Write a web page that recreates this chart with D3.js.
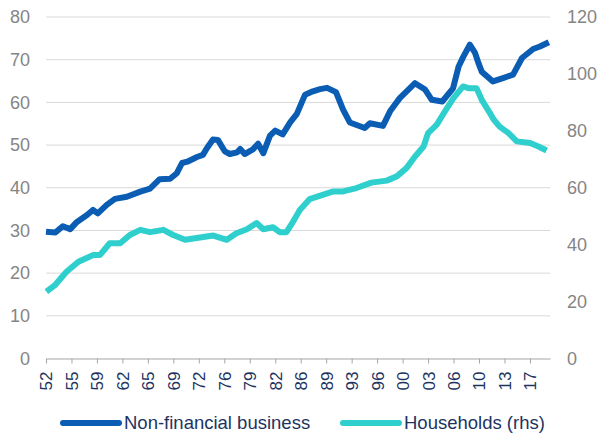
<!DOCTYPE html>
<html>
<head>
<meta charset="utf-8">
<script src="https://cdn.jsdelivr.net/npm/d3@7"></script>
<style>
  body { margin: 0; background: #fff; }
  svg { font-family: "Liberation Sans", Arial, sans-serif; }
</style>
</head>
<body>
<div id="chart"></div>
<script>
// Non-financial business debt (lhs) and households (rhs)
var bizYears = [1952.25, 1953.5, 1954.5, 1955.5, 1956.4, 1957.75, 1958.55, 1959.2, 1960.4, 1961.5,
    1963.1, 1964.9, 1966.2, 1967.5, 1968.9, 1969.8, 1970.5, 1971.2, 1972.5, 1973.3,
    1973.85, 1974.65, 1975.3, 1976.25, 1976.9, 1977.9, 1978.3, 1978.9, 1980.0, 1980.7,
    1981.4, 1982.3, 1983.0, 1984.0, 1985.0, 1985.9, 1987.0, 1988.05, 1989.0, 1989.95,
    1991.15, 1992.1, 1993.0, 1995.0, 1995.7, 1997.45, 1998.4, 1999.7, 2001.75, 2003.1,
    2004.0, 2005.4, 2006.85, 2007.6, 2008.2, 2009.1, 2009.8, 2010.3, 2010.7, 2012.2,
    2013.55, 2014.9, 2016.1, 2017.6, 2018.5, 2019.7];
var bizValues = [29.7, 29.5, 31, 30.3, 32, 33.6, 34.8, 34, 36, 37.4,
    37.9, 39.1, 39.8, 42, 42.1, 43.4, 45.8, 46.1, 47.2, 47.7,
    49.3, 51.3, 51.2, 48.5, 47.9, 48.3, 49.1, 47.9, 49, 50.3,
    48.1, 52.2, 53.4, 52.5, 55.3, 57.3, 61.8, 62.6, 63.1, 63.4,
    62.4, 58.3, 55.3, 54, 55.1, 54.5, 57.9, 61, 64.5, 63,
    60.6, 60.2, 63.3, 68.4, 70.6, 73.5, 71.6, 69, 67.2, 64.9,
    65.7, 66.5, 70.4, 72.5, 73.1, 74.1];

var hhYears = [1952.3, 1953.5, 1955.0, 1956.6, 1958.6, 1959.5, 1960.8, 1962.2, 1963.5, 1964.9,
    1966.2, 1968.0, 1969.3, 1970.9, 1972.9, 1974.7, 1976.5, 1977.8, 1979.2, 1980.5,
    1981.4, 1982.7, 1983.6, 1984.5, 1985.4, 1986.3, 1987.6, 1990.8, 1992.1, 1993.9,
    1995.9, 1997.95, 1999.3, 2000.6, 2001.75, 2002.9, 2003.5, 2004.65, 2005.75, 2006.9,
    2008.2, 2008.9, 2010.0, 2010.7, 2011.8, 2012.3, 2013.1, 2014.3, 2015.4, 2017.2,
    2018.3, 2019.4];
var hhValues = [23.5, 25.9, 30.5, 34, 36.4, 36.4, 40.5, 40.5, 43.4, 45.2,
    44.4, 45.2, 43.4, 41.7, 42.5, 43.2, 41.7, 44, 45.4, 47.6,
    45.4, 46.1, 44.4, 44.4, 48.1, 52.2, 56, 58.7, 58.7, 59.9,
    61.8, 62.5, 64, 66.9, 71, 74.5, 79.2, 82.1, 86.8, 91.5,
    95.6, 95, 95, 90.9, 86.2, 84, 81.5, 79.2, 76.3, 75.7,
    74.5, 73.1];

var leftTicks = [0, 10, 20, 30, 40, 50, 60, 70, 80];
var rightTicks = [0, 20, 40, 60, 80, 100, 120];
var xTickLabels = ["52", "55", "59", "62", "65", "69", "72", "76", "79", "82",
    "86", "89", "93", "96", "00", "03", "06", "10", "13", "17"];

var seriesNames = ["Non-financial business", "Households (rhs)"];
var colors = ["#0a5db3", "#2ecfcd"];

var svgWidth = 600;
var svgHeight = 435;

var margin = { top: 17, right: 50, bottom: 76, left: 46 };
var chartWidth = svgWidth - margin.left - margin.right;
var chartHeight = 358.5 - margin.top;

var svg = d3.select("#chart")
    .append("svg")
    .attr("width", svgWidth)
    .attr("height", svgHeight);

var chartGroup = svg.append("g")
    .attr("transform", `translate(${margin.left}, ${margin.top})`);

// tick every 41 months starting at 1952 Q2
var xStart = 1952.25;
var xTickValues = xTickLabels.map((d, i) => xStart + i * 41 / 12);

var xScale = d3.scaleLinear()
    .domain([xStart, xStart + chartWidth / 7.455])
    .range([0, chartWidth]);

var yLeft = d3.scaleLinear().domain([0, 80]).range([chartHeight, 0]);
var yRight = d3.scaleLinear().domain([0, 120]).range([chartHeight, 0]);

// gridlines
chartGroup.append("g")
    .selectAll("line")
    .data(leftTicks.filter(d => d > 0))
    .enter()
    .append("line")
    .attr("x1", 0)
    .attr("x2", chartWidth)
    .attr("y1", d => yLeft(d))
    .attr("y2", d => yLeft(d))
    .attr("stroke", "#d9d9d9")
    .attr("stroke-width", 1);

// left axis labels
var leftAxis = d3.axisLeft(yLeft).tickValues(leftTicks).tickSize(0).tickPadding(16);
var gl = chartGroup.append("g").call(leftAxis);
gl.select(".domain").remove();
gl.selectAll("text")
    .attr("fill", "#858585")
    .style("font-size", "18px");

// right axis labels
var rightAxis = d3.axisRight(yRight).tickValues(rightTicks).tickSize(0).tickPadding(17);
var gr = chartGroup.append("g")
    .attr("transform", `translate(${chartWidth}, 0)`)
    .call(rightAxis);
gr.select(".domain").remove();
gr.selectAll("text")
    .attr("fill", "#858585")
    .style("font-size", "18px");

// bottom axis
var bottomAxis = d3.axisBottom(xScale)
    .tickValues(xTickValues)
    .tickFormat((d, i) => xTickLabels[i])
    .tickSizeInner(5)
    .tickSizeOuter(0);

var gx = chartGroup.append("g")
    .attr("transform", `translate(0, ${chartHeight})`)
    .call(bottomAxis);
gx.select(".domain").attr("stroke", "#a6a6a6");
gx.selectAll(".tick line").attr("stroke", "#a6a6a6");
gx.selectAll("text")
    .attr("transform", "rotate(-90)")
    .attr("text-anchor", "end")
    .attr("x", -13)
    .attr("y", 0)
    .attr("dy", "0.35em")
    .attr("fill", "#1d3461")
    .style("font-size", "17px");

// lines
var bizData = bizYears.map((d, i) => ({ x: d, v: bizValues[i] }));
var hhData = hhYears.map((d, i) => ({ x: d, v: hhValues[i] }));

var bizLine = d3.line().x(d => xScale(d.x)).y(d => yLeft(d.v));
var hhLine = d3.line().x(d => xScale(d.x)).y(d => yRight(d.v));

chartGroup.append("path")
    .datum(hhData)
    .attr("d", hhLine)
    .attr("fill", "none")
    .attr("stroke", colors[1])
    .attr("stroke-width", 6)
    .attr("stroke-linejoin", "round");

chartGroup.append("path")
    .datum(bizData)
    .attr("d", bizLine)
    .attr("fill", "none")
    .attr("stroke", colors[0])
    .attr("stroke-width", 6)
    .attr("stroke-linejoin", "round");

// legend
var legendX = [63, 343];
var legend = svg.append("g").attr("transform", "translate(0, 423)");
seriesNames.forEach(function (name, i) {
    legend.append("line")
        .attr("x1", legendX[i])
        .attr("x2", legendX[i] + 56)
        .attr("y1", 0)
        .attr("y2", 0)
        .attr("stroke", colors[i])
        .attr("stroke-width", 6)
        .attr("stroke-linecap", "round");
    legend.append("text")
        .attr("x", legendX[i] + 61)
        .attr("y", 0)
        .attr("dy", "0.35em")
        .attr("fill", "#1d3461")
        .style("font-size", "18.5px")
        .text(name);
});
</script>
</body>
</html>
